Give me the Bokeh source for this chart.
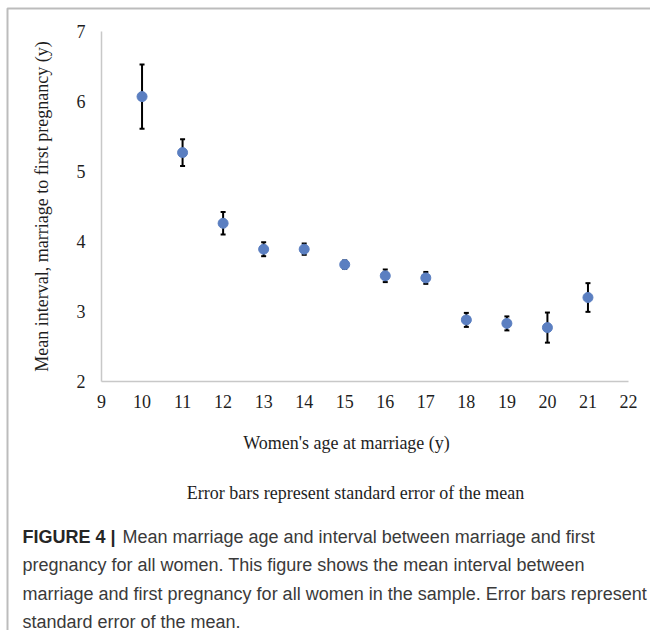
from bokeh.plotting import figure
from bokeh.models import (ColumnDataSource, Whisker, TeeHead, Range1d, FixedTicker,
                          Label, BoxAnnotation, LinearAxis)
from bokeh.embed import file_html
from bokeh.resources import INLINE

# ---- data ----
ages = [10, 11, 12, 13, 14, 15, 16, 17, 18, 19, 20, 21]
mean_interval = [6.07, 5.27, 4.26, 3.89, 3.89, 3.67, 3.51, 3.48, 2.88, 2.83, 2.77, 3.20]
std_error = [0.46, 0.19, 0.16, 0.10, 0.08, 0.06, 0.09, 0.085, 0.10, 0.10, 0.215, 0.205]
x_ticks = list(range(9, 23))
y_ticks = [2, 3, 4, 5, 6, 7]

x_label = "Women's age at marriage (y)"
y_label = "Mean interval, marriage to first pregnancy (y)"
note = "Error bars represent standard error of the mean"
caption_bold = "FIGURE 4 |"
caption_lines = [
    "Mean marriage age and interval between marriage and first",
    "pregnancy for all women. This figure shows the mean interval between",
    "marriage and first pregnancy for all women in the sample. Error bars represent",
    "standard error of the mean.",
]

lower = [m - s for m, s in zip(mean_interval, std_error)]
upper = [m + s for m, s in zip(mean_interval, std_error)]
src = ColumnDataSource(dict(x=ages, y=mean_interval, lower=lower, upper=upper))

SERIF = "Liberation Serif"
SANS = "Liberation Sans"

# canvas & plot-area placement (pixels)
W, H = 650, 630
AX_L, AX_R, AX_T, AX_B = 101, 628, 31, 381
x0, x1 = x_ticks[0], x_ticks[-1]
y0, y1 = y_ticks[0], y_ticks[-1]
sx = (AX_R - AX_L) / (x1 - x0)
sy = (AX_B - AX_T) / (y1 - y0)

p = figure(width=W, height=H, output_backend="svg", toolbar_location=None,
           x_axis_type=None, y_axis_type=None,
           x_range=Range1d(x0 - AX_L / sx, x1 + (W - AX_R) / sx),
           y_range=Range1d(y0 - (H - AX_B) / sy, y1 + AX_T / sy),
           min_border=0)
p.outline_line_color = None
p.xgrid.visible = False
p.ygrid.visible = False
p.background_fill_color = "white"
p.border_fill_color = "white"

xax = LinearAxis(fixed_location=y0, bounds=(x0, x1), ticker=FixedTicker(ticks=x_ticks))
yax = LinearAxis(fixed_location=x0, bounds=(y0, y1), ticker=FixedTicker(ticks=y_ticks))
for ax in (xax, yax):
    ax.axis_line_color = "#c8c8c8"
    ax.axis_line_width = 1.5
    ax.major_tick_line_color = None
    ax.minor_tick_line_color = None
    ax.major_label_text_font = SERIF
    ax.major_label_text_font_size = "18px"
    ax.major_label_text_color = "#1e1e1e"
xax.major_label_standoff = 7
yax.major_label_standoff = 10
yax.axis_label = y_label
yax.axis_label_text_font = SERIF
yax.axis_label_text_font_size = "18px"
yax.axis_label_text_font_style = "normal"
yax.axis_label_text_color = "#1e1e1e"
yax.axis_label_standoff = 22
p.add_layout(xax, "below")
p.add_layout(yax, "left")

whisk = Whisker(base="x", upper="upper", lower="lower", source=src,
                line_color="black", line_width=2, level="underlay",
                upper_head=TeeHead(size=5, line_color="black", line_width=2),
                lower_head=TeeHead(size=5, line_color="black", line_width=2))
p.add_layout(whisk)

p.scatter("x", "y", source=src, size=10, marker="circle",
          fill_color="#5b7fc1", line_color="#5b7fc1")


def lab(px, py, text, **kw):
    p.add_layout(Label(x=px, y=H - py, x_units="screen", y_units="screen", text=text,
                       text_baseline="middle", **kw))


lab(346, 442, x_label, text_font=SERIF, text_font_size="18px", text_color="#1e1e1e",
    text_align="center")
lab(355, 492, note, text_font=SERIF, text_font_size="18px", text_color="#1e1e1e",
    text_align="center")

cap_y = [536, 564, 593, 621]
lab(22, cap_y[0], caption_bold, text_font=SANS, text_font_size="18px",
    text_font_style="bold", text_color="#262626", text_align="left")
for i, line in enumerate(caption_lines):
    lab(122 if i == 0 else 22, cap_y[i], line, text_font=SANS, text_font_size="18px",
        text_color="#3a3a3a", text_align="left")

# figure frame (top and left rules)
p.add_layout(BoxAnnotation(left=7, right=W + 50, top=H - 8, bottom=-50,
                           left_units="screen", right_units="screen",
                           top_units="screen", bottom_units="screen",
                           fill_alpha=0, line_color="#222222", line_width=2,
                           level="underlay"))

open("out.html", "w").write(file_html(p, INLINE))
